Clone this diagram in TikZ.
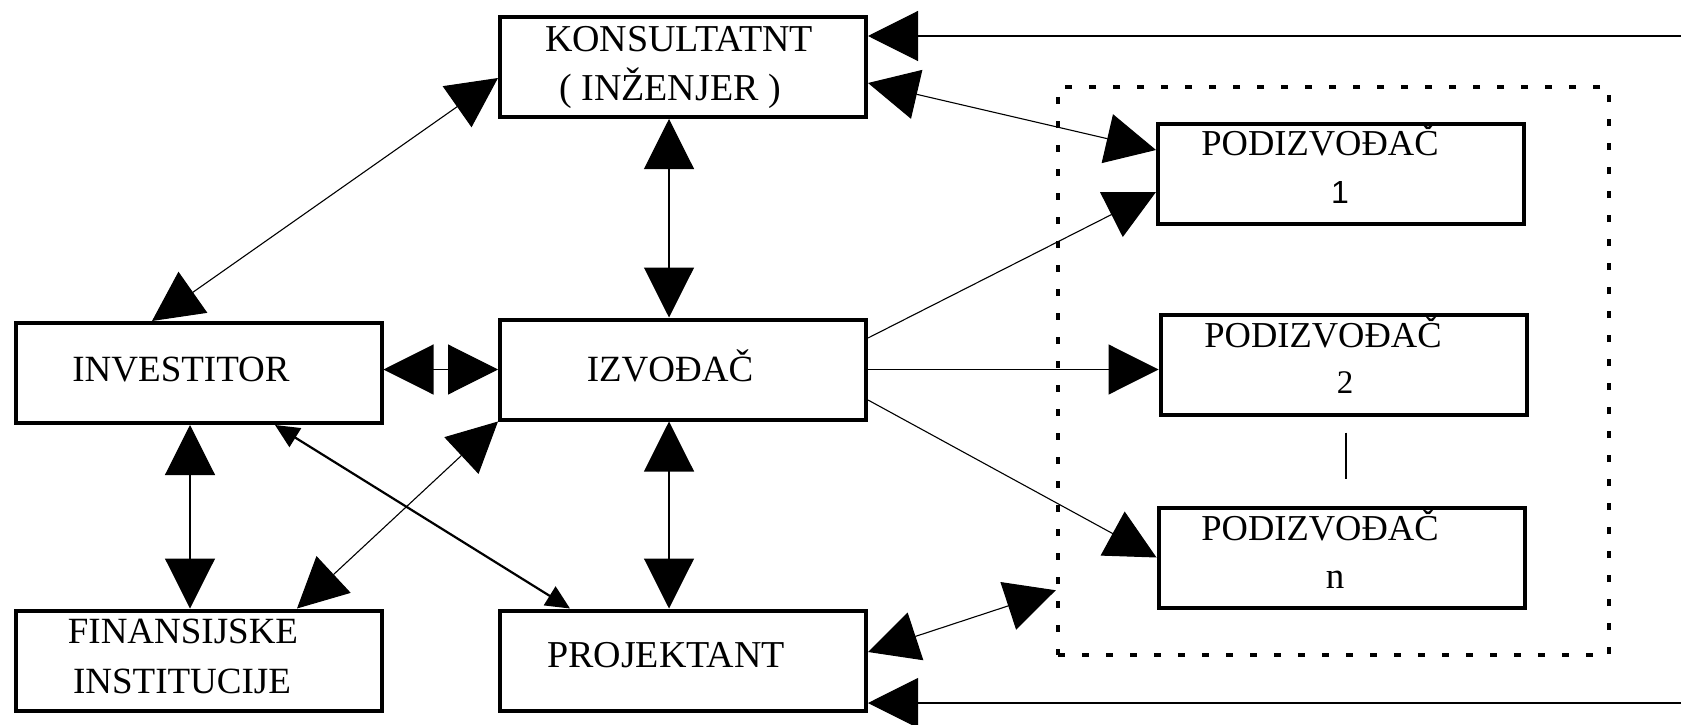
\documentclass[tikz,border=0pt]{standalone}
\usepackage{fontspec}
\setmainfont{Liberation Serif}
\newfontfamily\digitsans{Liberation Sans}
\usetikzlibrary{arrows.meta}
\begin{document}
\begin{tikzpicture}[x=1pt,y=-1pt,
  box/.style={draw, line width=4pt, minimum width=366pt, minimum height=100pt, inner sep=0pt},
  dotbox/.style={draw, line width=4.5pt, dash pattern=on 7pt off 17pt, minimum width=551pt, minimum height=568pt, inner sep=0pt},
  lbl/.style={font=\fontsize{37}{41}\selectfont, anchor=base, inner sep=0pt},
  biglbl/.style={lbl, font=\fontsize{38}{42}\selectfont},
  sublbl/.style={lbl, font=\fontsize{36.5}{40}\selectfont},
  conn/.style={line width=1.1pt, >={Triangle[length=50pt,width=50pt]}},
  thickconn/.style={line width=2.2pt, {Triangle[length=24pt,width=22pt]}-{Triangle[length=24pt,width=22pt]}}]
\useasboundingbox (0,0) rectangle (1681,725);

% boxes
\node[box] (kons) at (683,67) {};
\node[box] (inv) at (198.5,373) {};
\node[box] (izv) at (683,369.5) {};
\node[box] (fin) at (198.5,660.5) {};
\node[box] (proj) at (683,660.5) {};
\node[box] (p1) at (1341,173.5) {};
\node[box] (p2) at (1343.5,364.5) {};
\node[box] (pn) at (1341.5,557.5) {};
\node[dotbox] (dots) at (1333.5,371) {};

% labels
\node[biglbl] (tk1) at (679,52) {KONSULTATNT};
\node[biglbl] (tk2) at (670,100) {( INŽENJER )};
\node[lbl] (tinv) at (181,381) {INVESTITOR};
\node[lbl] (tizv) at (670,381) {IZVOĐAČ};
\node[lbl] (tf1) at (183,643) {FINANSIJSKE};
\node[lbl] (tf2) at (182,693) {INSTITUCIJE};
\node[biglbl] (tpr) at (666,667) {PROJEKTANT};
\node[sublbl] (tp1) at (1320,155) {PODIZVOĐAČ};
\node[lbl,font=\digitsans\fontsize{32}{36}\selectfont] (tn1) at (1340,203) {1};
\node[sublbl] (tp2) at (1323,347) {PODIZVOĐAČ};
\node[lbl,font=\fontsize{33}{36}\selectfont] (tn2) at (1345,393) {2};
\node[sublbl] (tpn) at (1320,540) {PODIZVOĐAČ};
\node[lbl] (tnn) at (1335,588) {n};

% connectors
\draw[conn,<->] ([yshift=-11pt]kons.west) -- ([xshift=-46.5pt]inv.north);
\draw[conn,<->] ([xshift=-14pt]kons.south) -- ([xshift=-14pt]izv.north);
\draw[conn,<->] (inv.east|-izv.west) -- (izv.west);
\draw[conn,<->] ([xshift=-8.5pt]inv.south) -- ([xshift=-8.5pt]fin.north);
\draw[conn,<->] (izv.south west) -- ([xshift=98.5pt]fin.north);
\draw[thickconn] ([xshift=76.5pt]inv.south) -- ([xshift=-113pt]proj.north);
\draw[conn,<->] ([xshift=-14pt]izv.south) -- ([xshift=-14pt]proj.north);
\draw[conn,<->] ([yshift=-16pt]kons.east) -- ([yshift=23.5pt]p1.west);
\draw[conn,->] ([yshift=31.5pt]izv.east) -- ([yshift=-18.5pt]p1.west);
\draw[conn,->] (izv.east) -- (izv.east-|p2.west);
\draw[conn,->] ([yshift=-30.5pt]izv.east) -- (pn.west);
\draw[conn,<->] ([yshift=8.5pt]proj.east) -- ([yshift=67pt]dots.south west);
\coordinate (tr) at (1681,36);
\draw[conn,->] (tr) -- (kons.east|-tr);
\coordinate (br) at (1681,703);
\draw[conn,->] (br) -- (proj.east|-br);
\draw[line width=1.1pt] ([xshift=2.5pt,yshift=-16pt]p2.south) -- ([xshift=4.5pt,yshift=27pt]pn.north);
\end{tikzpicture}
\end{document}
